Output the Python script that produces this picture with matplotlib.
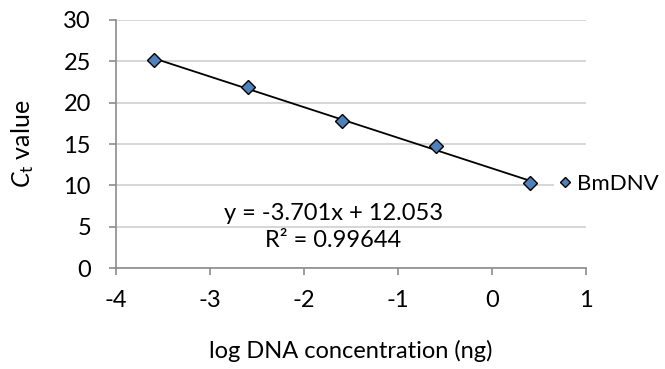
import matplotlib
matplotlib.use("Agg")
import matplotlib.pyplot as plt

plt.rcParams['font.family'] = ['Lato', 'DejaVu Sans']
plt.rcParams['mathtext.fontset'] = 'custom'
plt.rcParams['mathtext.rm'] = 'Lato'
plt.rcParams['mathtext.it'] = 'Lato:italic'
plt.rcParams['axes.unicode_minus'] = False

# data
log_conc = [-3.6, -2.6, -1.6, -0.6, 0.4]
ct_value = [25.15, 21.85, 17.78, 14.79, 10.24]
slope = -3.701
intercept = 12.053
r_squared = 0.99644
series_name = 'BmDNV'

fs = 17

fig = plt.figure(figsize=(6.65, 3.69), dpi=100)
ax = fig.add_axes([0.1744, 0.2737, 0.7068, 0.6721])

# trendline over the data range
x_fit = [min(log_conc), max(log_conc)]
y_fit = [slope * x + intercept for x in x_fit]
ax.plot(x_fit, y_fit, color='black', linewidth=1.3, zorder=3)

ax.plot(log_conc, ct_value, linestyle='none', marker='D', markersize=7,
        markerfacecolor='#4f81bd', markeredgecolor='black', markeredgewidth=1.0,
        label=series_name, zorder=4)

ax.set_xlim(-4, 1)
ax.set_ylim(0, 30)
ax.set_xticks(range(-4, 2))
ax.set_yticks(range(0, 31, 5))
ax.grid(axis='y', color='#d0d0d0', linewidth=1.2)
ax.set_axisbelow(True)

for s in ['top', 'right']:
    ax.spines[s].set_visible(False)
for s in ['left', 'bottom']:
    ax.spines[s].set_color('#8c8c8c')
    ax.spines[s].set_linewidth(1.2)
ax.tick_params(axis='both', colors='#8c8c8c', labelcolor='black', labelsize=fs,
               length=5, width=1.2, direction='out')
ax.tick_params(axis='y', pad=13)
ax.tick_params(axis='x', pad=11)

ax.set_xlabel('log DNA concentration (ng)', fontsize=fs, labelpad=21)
ax.set_ylabel(r'$\mathit{C}_{\mathrm{t}}$ value', fontsize=fs + 1, labelpad=20)

ax.text(-1.69, 6.6, f'y = {slope}x + {intercept}', fontsize=fs, ha='center', va='center')
ax.text(-1.69, 3.3, f'R² = {r_squared}', fontsize=fs, ha='center', va='center')

leg = ax.legend(loc='center left', bbox_to_anchor=(0.932, 0.339), fontsize=fs - 1,
                handlelength=0.6, handletextpad=0.25, borderpad=0.2, borderaxespad=0.0,
                frameon=True, fancybox=False, markerscale=0.75)
leg.get_frame().set_facecolor('white')
leg.get_frame().set_edgecolor('none')
leg.get_frame().set_alpha(1)

fig.savefig('out.png', dpi=100)
